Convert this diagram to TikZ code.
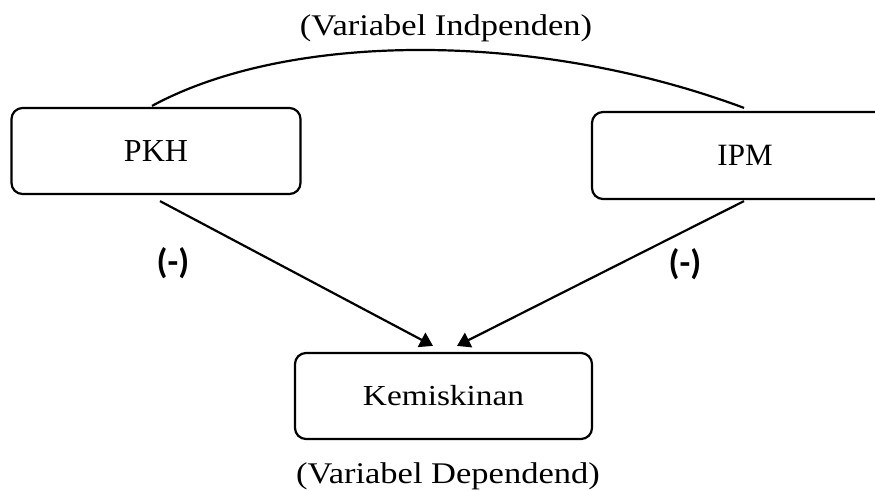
\documentclass[tikz,border=0pt]{standalone}
\usepackage{fontspec}
\setmainfont{Liberation Serif}
\newfontfamily\palafont{Liberation Serif}[FakeStretch=1.15]
\newfontfamily\signfont{Carlito}
\usetikzlibrary{arrows.meta}
\begin{document}
\begin{tikzpicture}[x=1pt,y=-1pt,
  box/.style={draw=black,line width=2.2pt,rounded corners=11pt,inner sep=0pt},
  conn/.style={line width=2.2pt},
  arr/.style={conn,-{Triangle[length=13pt,width=16pt]}},
  captext/.style={font=\fontsize{30}{36}\selectfont\palafont,anchor=base,inner sep=0pt},
  signtext/.style={font=\fontsize{35}{40}\selectfont\signfont\bfseries,inner sep=0pt}]
\useasboundingbox (0,0) rectangle (875,490);
\node[box,minimum width=289pt,minimum height=86pt,font=\fontsize{32}{36}\selectfont] (pkh) at (156,151) {PKH};
\node[box,minimum width=306pt,minimum height=87pt,font=\fontsize{31}{36}\selectfont] (ipm) at (745,155.5) {IPM};
\node[box,minimum width=297pt,minimum height=86pt,font=\fontsize{29}{36}\selectfont\palafont] (kem) at (443.5,396) {Kemiskinan};
\node[captext] (top) at (446,35) {(Variabel Indpenden)};
\node[captext] (bot) at (448,483) {(Variabel Dependend)};
\node[signtext] (s1) at (173,263) {(-)};
\node[signtext] (s2) at (685,264) {(-)};
\draw[conn] ([xshift=-4pt,yshift=1pt]pkh.north) .. controls (290,31) and (538,31) .. ([xshift=-1pt,yshift=3pt]ipm.north);
\draw[arr] ([xshift=4pt,yshift=-6pt]pkh.south) -- ([xshift=-10.5pt,yshift=6pt]kem.north);
\draw[arr] ([xshift=-1pt,yshift=-1pt]ipm.south) -- ([xshift=13.5pt,yshift=6pt]kem.north);
\end{tikzpicture}
\end{document}
